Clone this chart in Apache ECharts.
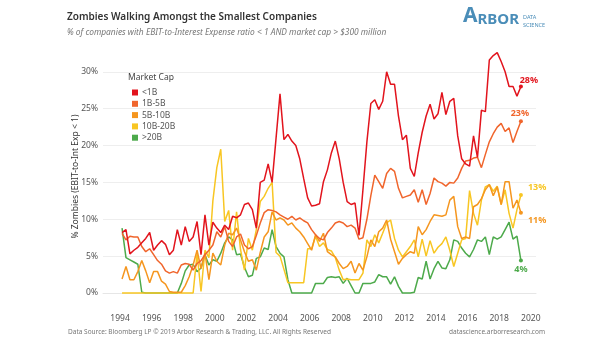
<!DOCTYPE html>
<html>
<head>
<meta charset="utf-8">
<script src="https://cdn.jsdelivr.net/npm/echarts@6/dist/echarts.min.js"></script>
<style>
html,body{margin:0;padding:0;background:#fff;}
#chart{width:605px;height:341px;}
</style>
</head>
<body>
<div id="chart"></div>
<script>
// ---- data (quarterly, first point = 1994 Q1) ----
const firstQuarter = 1994.125;
const seriesNames = ['<1B', '1B-5B', '5B-10B', '10B-20B', '>20B'];
const yearTicks = [1994, 1996, 1998, 2000, 2002, 2004, 2006, 2008, 2010, 2012, 2014, 2016, 2018, 2020];
const pctTicks = [0, 5, 10, 15, 20, 25, 30];

const capUnder1B = [8.2, 8.6, 5.3, 5.8, 6.2, 6.8, 7.4, 8.2, 5.8, 6.5,
 7.1, 6.6, 5.2, 5.8, 8.6, 6.5, 9.0, 7.0, 7.6, 9.7,
 5.2, 10.6, 6.5, 9.6, 8.8, 8.2, 9.2, 8.6, 10.4, 10.2,
 10.6, 12.0, 12.2, 11.3, 8.8, 15.0, 15.3, 17.5, 15.0, 21.0,
 27.0, 20.8, 21.5, 20.6, 20.0, 18.2, 15.5, 12.9, 11.8, 11.9,
 12.1, 15.1, 16.7, 19.0, 20.6, 18.2, 15.0, 12.4, 12.0, 12.2,
 7.8, 14.0, 20.5, 25.7, 26.2, 24.9, 26.0, 30.0, 28.3, 28.3,
 24.0, 20.8, 21.4, 16.9, 15.8, 19.0, 21.8, 24.0, 25.6, 23.6,
 24.3, 27.2, 24.2, 26.0, 26.4, 21.3, 18.2, 17.5, 17.2, 21.3,
 18.4, 24.8, 24.6, 31.6, 32.2, 32.6, 31.4, 30.0, 28.0, 28.0,
 26.7, 28.0];

const cap1to5B = [8.1, 7.2, 7.7, 7.6, 7.6, 6.3, 5.6, 6.0, 5.2, 4.4,
 3.9, 3.0, 2.7, 2.9, 2.7, 3.8, 4.0, 3.9, 3.1, 4.0,
 4.4, 5.2, 5.8, 6.5, 8.3, 7.6, 9.0, 7.0, 6.3, 7.6,
 8.0, 6.5, 6.0, 6.3, 7.8, 9.5, 10.9, 11.3, 11.2, 11.0,
 10.6, 10.3, 10.0, 10.4, 9.9, 10.2, 9.8, 9.5, 8.6, 7.9,
 7.4, 7.2, 8.2, 8.8, 9.5, 9.7, 9.5, 9.0, 9.2, 8.8,
 7.3, 7.5, 10.0, 13.2, 16.0, 15.1, 14.2, 16.2, 16.9, 16.5,
 14.2, 12.9, 13.1, 13.3, 14.0, 12.3, 14.0, 12.0, 13.5, 15.6,
 15.1, 14.9, 14.5, 15.0, 14.9, 15.6, 16.9, 17.9, 18.0, 18.3,
 18.4, 17.0, 18.8, 20.5, 21.6, 22.5, 23.0, 21.9, 22.4, 20.4,
 21.9, 23.3];

const cap5to10B = [1.9, 3.6, 1.8, 1.8, 2.9, 4.4, 3.0, 1.4, 2.9, 2.9,
 1.6, 1.2, 0.2, 0.1, 0.1, 0.1, 1.0, 2.2, 3.8, 5.8,
 3.3, 5.4, 1.8, 5.4, 4.3, 3.8, 6.5, 8.1, 7.9, 8.8,
 7.2, 5.6, 4.3, 4.5, 3.1, 5.5, 7.6, 8.3, 11.0, 9.9,
 10.2, 9.9, 9.2, 9.5, 8.8, 8.3, 7.6, 6.7, 5.8, 7.9,
 7.0, 8.1, 5.6, 5.2, 4.9, 4.0, 3.3, 3.6, 4.3, 2.7,
 4.0, 3.1, 4.9, 7.2, 6.3, 8.3, 8.8, 9.9, 7.3, 5.6,
 3.9, 4.7, 5.2, 5.6, 5.4, 9.0, 7.9, 8.6, 9.7, 10.6,
 10.5, 10.4, 10.6, 12.6, 13.1, 9.0, 7.4, 7.6, 7.4, 11.7,
 12.0, 12.8, 14.0, 14.7, 13.2, 14.4, 12.0, 15.1, 15.1, 11.5,
 12.6, 10.9];

const cap10to20B = [0, 0, 0, 0, 0, 0, 0, 0, 0, 0,
 0, 0, 0, 0, 0, 0, 0, 0, 0, 5.3,
 0.2, 5.8, 4.8, 12.5, 17.0, 19.5, 9.7, 11.2, 5.8, 11.0,
 5.9, 3.1, 7.4, 5.8, 8.6, 12.4, 13.1, 14.2, 15.0, 5.5,
 5.0, 3.2, 1.4, 1.4, 1.4, 1.4, 1.4, 6.0, 6.0, 7.7,
 6.3, 6.8, 5.9, 5.7, 4.8, 3.1, 1.8, 1.9, 1.8, 1.8,
 1.8, 2.7, 7.2, 6.3, 7.9, 6.8, 8.1, 9.5, 9.9, 7.4,
 5.8, 4.9, 5.6, 6.3, 7.2, 4.9, 7.3, 5.0, 7.1, 5.4,
 6.2, 6.7, 7.6, 5.8, 3.6, 5.4, 7.2, 7.4, 13.9, 10.8,
 9.2, 12.6, 14.4, 14.7, 13.8, 14.5, 12.0, 14.0, 10.8, 8.8,
 11.3, 13.3];

const capOver20B = [8.8, 4.8, 4.5, 4.2, 3.9, 0.1, 0, 0, 0, 0,
 0, 0, 0, 0, 0, 1.3, 3.0, 3.8, 3.9, 2.9,
 3.4, 5.2, 3.8, 4.5, 4.3, 5.4, 6.8, 7.6, 7.2, 5.2,
 5.3, 3.5, 2.2, 2.4, 4.7, 4.9, 6.1, 5.9, 8.6, 6.3,
 5.4, 4.9, 1.8, 0, 0, 0, 0, 0, 0, 1.3,
 1.3, 1.3, 2.1, 2.2, 2.1, 2.2, 1.3, 2.0, 1.0, 0,
 0, 1.3, 1.3, 1.3, 1.5, 2.5, 2.2, 2.2, 1.2, 2.2,
 0.9, 0, 0, 0, 0.1, 2.1, 1.9, 4.3, 1.9, 3.3,
 4.3, 3.4, 3.3, 4.5, 7.2, 7.0, 6.1, 5.4, 4.9, 5.9,
 7.2, 7.0, 7.6, 5.2, 7.6, 7.3, 7.6, 8.6, 9.6, 7.3,
 7.7, 4.4];

// ---- styling ----
const FONT = 'Noto Sans';
const colors = ['#E2141D', '#F0652C', '#F5961F', '#F8C623', '#4DAA4B'];
const endLabelCfg = [
  {position: 'top', offset: [8, 3]},
  {position: 'top', offset: [-1, 2]},
  {position: 'right', offset: [2, 8]},
  {position: 'right', offset: [2, -7]},
  {position: 'bottom', offset: [0, -1]}
];
const allValues = [capUnder1B, cap1to5B, cap5to10B, cap10to20B, capOver20B];

const series = allValues.map((vals, s) => {
  const data = vals.map((v, i) => [firstQuarter + i * 0.25, v]);
  const last = data.length - 1;
  data[last] = {
    value: data[last],
    symbol: 'circle',
    symbolSize: 4,
    label: {
      show: true,
      position: endLabelCfg[s].position,
      offset: endLabelCfg[s].offset,
      distance: 3,
      formatter: p => Math.round(p.value[1]) + '%',
      color: colors[s],
      fontFamily: FONT,
      fontSize: 9,
      fontWeight: 'bold'
    }
  };
  return {
    name: seriesNames[s],
    type: 'line',
    data: data,
    symbol: 'none',
    showSymbol: true,
    z: 10 - s,
    lineStyle: {width: 1.5, color: colors[s]},
    itemStyle: {color: colors[s]},
    emphasis: {disabled: true},
    animation: false
  };
});

const chart = echarts.init(document.getElementById('chart'), null, {renderer: 'canvas'});
chart.setOption({
  animation: false,
  color: colors,
  textStyle: {fontFamily: FONT},
  title: [
    {text: 'Zombies Walking Amongst the Smallest Companies', left: 67, top: 12, padding: 0,
     textStyle: {fontFamily: FONT, fontSize: 10, fontWeight: 600, color: '#333'}},
    {text: '% of companies with EBIT-to-Interest Expense ratio < 1 AND market cap > $300 million', left: 67, top: 29, padding: 0,
     textStyle: {fontFamily: FONT, fontSize: 8.4, fontStyle: 'italic', fontWeight: 'normal', color: '#777'}},
    {text: '{a|A}{b|RBOR}', left: 463, top: 6, padding: 0,
     textStyle: {rich: {
       a: {fontFamily: FONT, fontSize: 21, color: '#4A8DB8', verticalAlign: 'bottom'},
       b: {fontFamily: FONT, fontSize: 15, color: '#4A8DB8', verticalAlign: 'bottom'}
     }}},
    {text: 'DATA\nSCIENCE', left: 523, top: 13, padding: 0,
     textStyle: {fontFamily: FONT, fontSize: 5.5, lineHeight: 8, color: '#4A8DB8', fontWeight: 'normal'}},
    {text: 'Market Cap', left: 128, top: 73, padding: 0,
     textStyle: {fontFamily: FONT, fontSize: 8.5, fontWeight: 'normal', color: '#444'}},
    {text: 'Data Source: Bloomberg LP \u00a9 2019 Arbor Research & Trading, LLC. All Rights Reserved', left: 68, top: 329, padding: 0,
     textStyle: {fontFamily: FONT, fontSize: 6.5, fontWeight: 'normal', color: '#777'}},
    {text: 'datascience.arborresearch.com', right: 60, top: 329, padding: 0,
     textStyle: {fontFamily: FONT, fontSize: 6.5, fontWeight: 'normal', color: '#777'}}
  ],
  legend: {
    orient: 'vertical', left: 127, top: 83,
    icon: 'rect', itemWidth: 6, itemHeight: 6, itemGap: 2.3,
    data: seriesNames,
    textStyle: {fontFamily: FONT, fontSize: 8.5, color: '#555', padding: [0, 0, 0, -1]},
    selectedMode: false
  },
  grid: {left: 103, right: 69, top: 46, bottom: 34, containLabel: false},
  xAxis: {
    type: 'value', min: 1992.92, max: 2020.33,
    axisLine: {show: true, lineStyle: {color: '#e6e6e6', width: 1}},
    axisTick: {show: false, customValues: yearTicks},
    splitLine: {show: false},
    axisLabel: {customValues: yearTicks, color: '#555', fontFamily: FONT, fontSize: 8.5, margin: 7,
                formatter: v => String(v)}
  },
  yAxis: {
    type: 'value', min: -1.9, max: 33.5,
    name: '% Zombies (EBIT-to-Int Exp < 1)', nameLocation: 'middle', nameRotate: 90, nameGap: 23,
    nameMoveOverlap: false,
    nameTextStyle: {fontFamily: FONT, fontSize: 8.5, color: '#333'},
    axisLine: {show: false},
    axisTick: {show: false, customValues: pctTicks},
    splitLine: {show: true, lineStyle: {color: '#eeeeee', width: 1}},
    axisLabel: {customValues: pctTicks, color: '#555', fontFamily: FONT, fontSize: 8.5, margin: 5,
                formatter: v => v + '%'}
  },
  series: series
});
</script>
</body>
</html>
